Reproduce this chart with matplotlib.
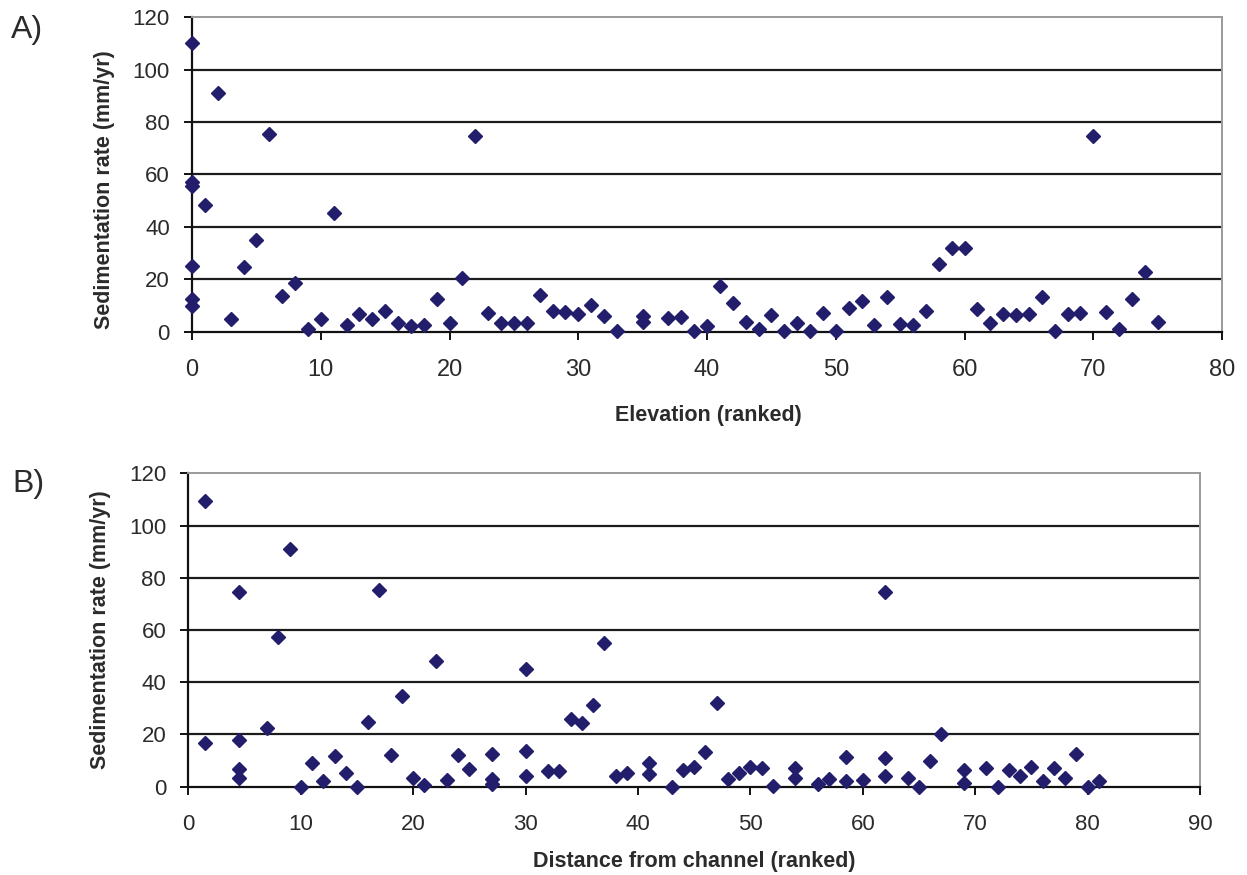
import matplotlib
matplotlib.use("Agg")
import matplotlib.pyplot as plt

plt.rcParams["font.family"] = ["Liberation Sans", "DejaVu Sans"]

# Panel A: sedimentation rate against ranked elevation
elev_rank = [0, 0, 0, 0, 0, 0, 1, 2, 3, 4, 5, 6, 7, 8, 9, 10, 11, 12, 13, 14,
             15, 16, 17, 18, 19, 20, 21, 22, 23, 24, 25, 26, 27, 28, 29, 30,
             31, 32, 33, 35, 35, 37, 38, 39, 40, 41, 42, 43, 44, 45, 46, 47,
             48, 49, 50, 51, 52, 53, 54, 55, 56, 57, 58, 59, 60, 61, 62, 63,
             64, 65, 66, 67, 68, 69, 70, 71, 72, 73, 74, 75]
elev_rate = [110.0, 57.3, 55.6, 25.1, 12.4, 9.8, 48.4, 91.0, 4.7, 24.8,
             35.0, 75.3, 13.6, 18.5, 0.9, 4.7, 45.2, 2.6, 6.8, 4.7,
             7.9, 3.4, 2.2, 2.6, 12.6, 3.4, 20.6, 74.7, 7.0, 3.2,
             3.4, 3.3, 14.0, 7.9, 7.6, 6.8, 10.2, 6.0, 0.4, 6.0,
             3.8, 5.1, 5.7, 0.4, 2.2, 17.4, 11.1, 3.8, 0.9, 6.4,
             0.4, 3.4, 0.4, 7.3, 0.4, 8.9, 11.7, 2.6, 13.1, 2.9,
             2.7, 7.9, 25.8, 31.8, 32.1, 8.5, 3.4, 6.8, 6.4, 6.8,
             13.1, 0.4, 6.8, 7.3, 74.7, 7.6, 0.9, 12.4, 22.9, 3.8]

# Panel B: sedimentation rate against ranked distance from channel
dist_rank = [1.5, 1.5, 4.5, 4.5, 4.5, 4.5, 7, 8, 9, 10, 11, 12, 13, 14, 15,
             16, 17, 18, 19, 20, 21, 22, 23, 24, 25, 27, 27, 27, 30, 30, 30,
             32, 33, 34, 35, 36, 37, 38, 39, 41, 41, 43, 44, 45, 46, 47, 48,
             49, 50, 51, 52, 54, 54, 56, 57, 58.5, 58.5, 60, 62, 62, 62, 64,
             65, 66, 67, 69, 69, 71, 72, 73, 74, 75, 76, 77, 78, 79, 80, 81]
dist_rate = [109.5, 16.9, 74.7, 17.9, 6.8, 3.2, 22.4, 57.2, 91.0, 0.0,
             9.2, 2.2, 11.8, 5.4, 0.0, 24.7, 75.3, 12.1, 34.9, 3.2,
             0.6, 48.3, 2.6, 12.1, 6.6, 12.4, 2.9, 1.0, 45.1, 13.7,
             4.2, 6.0, 6.0, 25.8, 24.5, 31.3, 55.2, 4.2, 5.1, 9.0,
             5.0, 0.0, 6.4, 7.7, 13.2, 31.9, 2.9, 5.1, 7.7, 7.0,
             0.4, 7.3, 3.2, 0.9, 2.9, 11.5, 2.2, 2.6, 74.4, 10.9,
             4.2, 3.2, 0.0, 9.8, 20.2, 6.4, 1.3, 7.3, 0.0, 6.4,
             4.0, 7.4, 2.2, 7.0, 3.2, 12.4, 0.0, 2.2]

y_ticks = [0, 20, 40, 60, 80, 100, 120]
x_ticks_a = [0, 10, 20, 30, 40, 50, 60, 70, 80]
x_ticks_b = [0, 10, 20, 30, 40, 50, 60, 70, 80, 90]

MARKER = "#221E6C"
TEXT = "#2b2b2b"
W, H = 1247, 875

fig = plt.figure(figsize=(W / 100, H / 100), dpi=100)
fig.patch.set_facecolor("white")


def px_axes(left, right, top, bottom):
    return fig.add_axes([left / W, 1 - bottom / H, (right - left) / W, (bottom - top) / H])


def style(ax, xt, xmax, xfs):
    ax.set_xlim(0, xmax)
    ax.set_ylim(0, 120)
    ax.set_xticks(xt)
    ax.set_yticks(y_ticks)
    ax.yaxis.grid(True, color="#1c1c1c", lw=1.6)
    ax.get_ygridlines()[-1].set_visible(False)
    ax.get_ygridlines()[0].set_visible(False)
    ax.set_axisbelow(True)
    for s in ("top", "right"):
        ax.spines[s].set_color("#9a9a9a")
        ax.spines[s].set_linewidth(1.4)
    for s in ("left", "bottom"):
        ax.spines[s].set_color("#111111")
        ax.spines[s].set_linewidth(1.6)
    ax.tick_params(axis="y", direction="out", length=5.5, width=1.4,
                   color="#111111", pad=10.5, labelsize=16, labelcolor=TEXT)
    ax.tick_params(axis="x", direction="out", length=5.5, width=1.4,
                   color="#111111", pad=14, labelsize=xfs, labelcolor=TEXT)


# Panel A
ax1 = px_axes(192, 1222, 17.3, 331.7)
style(ax1, x_ticks_a, 80, 17)
ax1.plot(elev_rank, elev_rate, linestyle="none", marker="D", ms=7.3,
         color=MARKER, clip_on=False, zorder=3)

# Panel B
ax2 = px_axes(188.4, 1200, 473.3, 786.7)
style(ax2, x_ticks_b, 90, 16)
ax2.plot(dist_rank, dist_rate, linestyle="none", marker="D", ms=7.3,
         color=MARKER, clip_on=False, zorder=3)

# Axis titles and panel letters
lab = dict(fontsize=15.5, fontweight="bold", color=TEXT)
fig.text(105 / W, 1 - 190 / H, "Sedimentation rate (mm/yr)", rotation=90,
         ha="center", va="center", **lab)
fig.text(101 / W, 1 - 630 / H, "Sedimentation rate (mm/yr)", rotation=90,
         ha="center", va="center", **lab)
fig.text(708 / W, 1 - 416 / H, "Elevation (ranked)", ha="center", va="center", **lab)
fig.text(694 / W, 1 - 862 / H, "Distance from channel (ranked)",
         ha="center", va="center", **lab)
fig.text(11 / W, 1 - 30 / H, "A)", fontsize=23, color=TEXT, ha="left", va="center")
fig.text(12 / W, 1 - 484 / H, "B)", fontsize=23, color=TEXT, ha="left", va="center")

fig.savefig("out.png", dpi=100, facecolor="white")
